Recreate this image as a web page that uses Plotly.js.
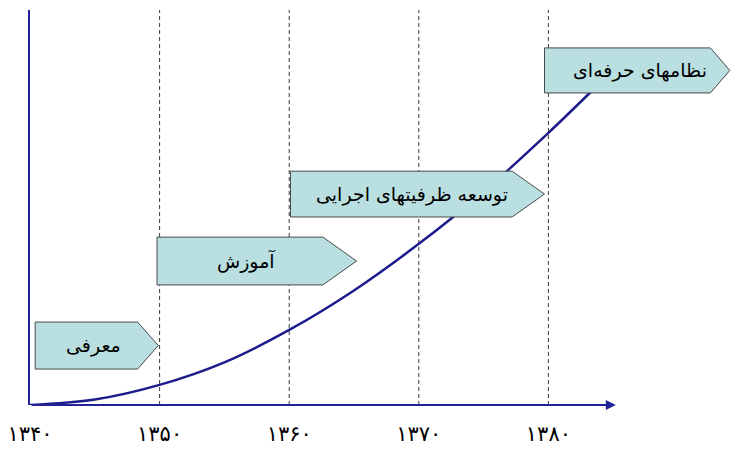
<!DOCTYPE html>
<html>
<head>
<meta charset="utf-8">
<script src="https://cdn.plot.ly/plotly-3.0.1.min.js"></script>
<style>html,body{margin:0;padding:0;background:#fff;}#chart{width:731px;height:449px;}</style>
</head>
<body>
<div id="chart"></div>
<script>
// ---- data ----
const curveYears = [1340, 1345, 1350, 1355, 1360, 1365, 1370, 1375, 1380, 1383.5];
const curveValues = [0, 1.4, 5.1, 10.8, 19.0, 29.0, 40.8, 54.0, 68.9, 80.0];
const tickYears = [1340, 1350, 1360, 1370, 1380];
const tickLabels = ['۱۳۴۰', '۱۳۵۰', '۱۳۶۰', '۱۳۷۰', '۱۳۸۰'];
const dividerYears = [1350, 1360, 1370, 1380];
const phaseLabels = ['معرفی', 'آموزش', 'توسعه ظرفیتهای اجرایی', 'نظامهای حرفه‌ای'];

// ---- layout geometry of the phase arrows (left, body end, tip, bottom, top, label x) ----
const phaseBoxes = [
  {x0: 1340.4, x1: 1348.3, xt: 1349.9, y0: 9.1,  y1: 21.0, tx: 1344.9},
  {x0: 1349.8, x1: 1362.6, xt: 1365.2, y0: 30.4, y1: 42.5, tx: 1356.7},
  {x0: 1360.1, x1: 1377.2, xt: 1379.7, y0: 47.6, y1: 59.2, tx: 1369.5},
  {x0: 1379.7, x1: 1392.5, xt: 1394.0, y0: 79.0, y1: 90.4, tx: 1387.1}
];

const navy = '#22229a';
const shapes = [];
dividerYears.forEach(yr => {
  shapes.push({type: 'line', xref: 'x', yref: 'y', x0: yr, x1: yr, y0: 0, y1: 100,
    layer: 'below', line: {color: '#3a3a3a', width: 1, dash: '4px,3px'}});
});
phaseBoxes.forEach(b => {
  const ym = (b.y0 + b.y1) / 2;
  shapes.push({type: 'path', xref: 'x', yref: 'y', layer: 'above',
    path: `M${b.x0},${b.y0} L${b.x1},${b.y0} L${b.xt},${ym} L${b.x1},${b.y1} L${b.x0},${b.y1} Z`,
    fillcolor: '#b9dfe1', line: {color: '#4a4a4a', width: 1}});
});

const annotations = phaseBoxes.map((b, i) => ({
  x: b.tx, y: (b.y0 + b.y1) / 2, xref: 'x', yref: 'y', text: phaseLabels[i],
  showarrow: false, font: {family: 'DejaVu Sans', size: 19, color: '#000'},
  xanchor: 'center', yanchor: 'middle'
}));
// x axis line with arrow head
annotations.push({x: 1385.2, y: 0, ax: 1340, ay: 0, xref: 'x', yref: 'y', axref: 'x', ayref: 'y',
  text: '', showarrow: true, arrowhead: 2, arrowsize: 1, arrowwidth: 2, arrowcolor: navy, standoff: 0});

const trace = {x: curveYears, y: curveValues, type: 'scatter', mode: 'lines',
  line: {color: '#1c1c8c', width: 2.5, shape: 'spline', smoothing: 1}, hoverinfo: 'skip', cliponaxis: false};

const layout = {
  width: 731, height: 449,
  margin: {l: 30, r: 0, t: 10, b: 44},
  paper_bgcolor: '#fff', plot_bgcolor: '#fff',
  showlegend: false,
  xaxis: {range: [1340, 1394.09], showline: false, zeroline: false, showgrid: false,
    tickvals: tickYears, ticktext: tickLabels, ticks: '', ticklabelstandoff: 14,
    tickfont: {family: 'DejaVu Sans', size: 21, color: '#000'}, fixedrange: true},
  yaxis: {range: [0, 100], showline: true, linecolor: navy, linewidth: 2, zeroline: false,
    showgrid: false, showticklabels: false, ticks: '', fixedrange: true},
  shapes: shapes,
  annotations: annotations
};

Plotly.newPlot('chart', [trace], layout, {displayModeBar: false, staticPlot: true});
</script>
</body>
</html>
